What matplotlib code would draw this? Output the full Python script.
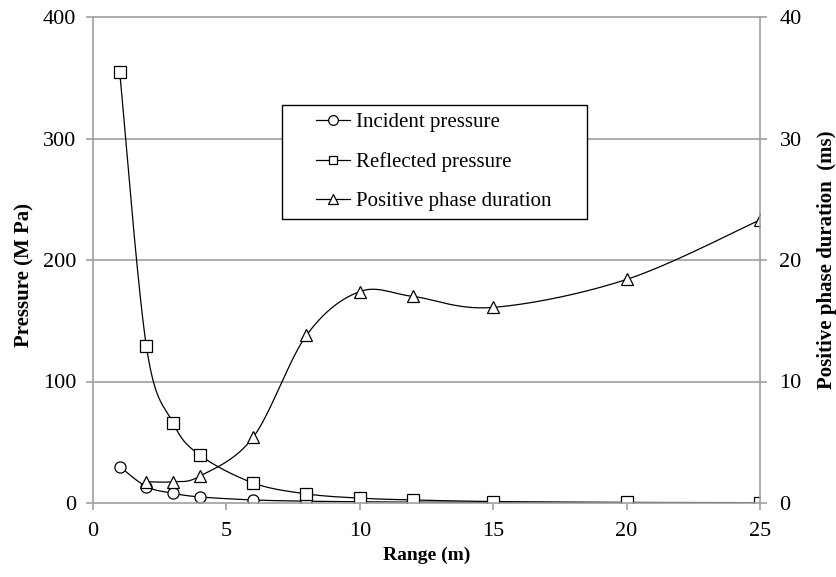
import matplotlib.pyplot as plt
from matplotlib.patches import Rectangle
import numpy as np

plt.rcParams['font.family'] = ['Liberation Serif', 'DejaVu Serif']

rng = [1, 2, 3, 4, 6, 8, 10, 12, 15, 20, 25]
incident = [30, 13.5, 8, 5, 2.5, 1.5, 1.0, 0.7, 0.5, 0.3, 0.2]
reflected = [355, 129, 66, 39.5, 16.5, 7.5, 4, 2.5, 1.2, 0.5, 0.3]
rng_dur = [2, 3, 4, 6, 8, 10, 12, 15, 20, 25]
duration = [1.75, 1.75, 2.2, 5.4, 13.8, 17.4, 17.0, 16.1, 18.4, 23.3]

W, H = 8.37, 5.77
L, R, B, T = 93 / 837, 760 / 837, 1 - 503 / 577, 1 - 17 / 577


def smooth(xs, ys, xspan, yspan, n=40):
    # excel-like smoothed line: bezier through the points in screen-ish units
    sx = W * (R - L) / xspan
    sy = H * (T - B) / yspan
    p = np.column_stack([np.array(xs) * sx, np.array(ys) * sy])
    p = np.vstack([p[0], p, p[-1]])
    out = []
    t = np.linspace(0, 1, n)[:, None]
    for i in range(1, len(p) - 2):
        p0, p1, p2, p3 = p[i - 1], p[i], p[i + 1], p[i + 2]
        c1 = p1 + (p2 - p0) / 6
        c2 = p2 - (p3 - p1) / 6
        seg = ((1 - t) ** 3) * p1 + 3 * ((1 - t) ** 2) * t * c1 + 3 * (1 - t) * t ** 2 * c2 + t ** 3 * p2
        out.append(seg)
    out = np.vstack(out)
    return out[:, 0] / sx, out[:, 1] / sy


fig = plt.figure(figsize=(W, H), dpi=100)
ax = fig.add_axes([L, B, R - L, T - B])
ax2 = ax.twinx()

grey = '#a0a0a0'
mk = dict(markerfacecolor='white', markeredgecolor='black', markeredgewidth=0.9, color='black', lw=0.9)

xs, ys = smooth(rng, incident, 25, 400)
ax.plot(xs, ys, color='black', lw=0.9)
ax.plot(rng, incident, 'o', ms=8, **mk)
xs, ys = smooth(rng, reflected, 25, 400)
ax.plot(xs, ys, color='black', lw=0.9)
ax.plot(rng, reflected, 's', ms=8, **mk)
xs, ys = smooth(rng_dur, duration, 25, 40)
ax2.plot(xs, ys, color='black', lw=0.9)
ax2.plot(rng_dur, duration, '^', ms=9, **mk)

# legend proxies
p1, = ax.plot([], [], 'o-', ms=7, **mk)
p2, = ax.plot([], [], 's-', ms=6, **mk)
p3, = ax.plot([], [], '^-', ms=7, **mk)
leg = fig.legend([p1, p2, p3], ['Incident pressure', 'Reflected pressure', 'Positive phase duration'],
                 loc='center', bbox_to_anchor=(434 / 837, 1 - 162 / 577), fontsize=15, frameon=False,
                 handlelength=1.6, handletextpad=0.3, labelspacing=0.95)
fig.add_artist(Rectangle((282 / 837, 1 - 219 / 577), 305 / 837, 114 / 577, transform=fig.transFigure,
                         fill=True, facecolor='white', edgecolor='black', lw=1.0, zorder=4))
leg.set_zorder(5)

ax.set_xlim(0, 25)
ax.set_ylim(0, 400)
ax2.set_ylim(0, 40)
ax.set_xticks([0, 5, 10, 15, 20, 25])
ax.set_yticks([0, 100, 200, 300, 400])
ax2.set_yticks([0, 10, 20, 30, 40])
for y in [100, 200, 300, 400]:
    ax.axhline(y, color=grey, lw=1.2, zorder=0, clip_on=False)

for a in (ax, ax2):
    a.spines['top'].set_visible(False)
    for s in ('left', 'right', 'bottom'):
        a.spines[s].set_color(grey)
        a.spines[s].set_linewidth(1.2)
    a.tick_params(direction='out', length=5, width=1.2, color=grey, labelsize=16)
ax.tick_params(axis='y', pad=7)
ax.tick_params(axis='x', pad=9)
ax2.tick_params(axis='y', pad=9)
ax.spines['right'].set_visible(False)
ax2.spines['left'].set_visible(False)
ax2.spines['bottom'].set_visible(False)

ax.set_xlabel('Range (m)', fontsize=14, fontweight='bold', labelpad=4)
ax.set_ylabel('Pressure (M Pa)', fontsize=15, fontweight='bold')
ax.yaxis.set_label_coords(-0.088, 0.47)
ax2.set_ylabel('Positive phase duration  (ms)', fontsize=15, fontweight='bold', labelpad=11)

plt.savefig('out.png', dpi=100)
